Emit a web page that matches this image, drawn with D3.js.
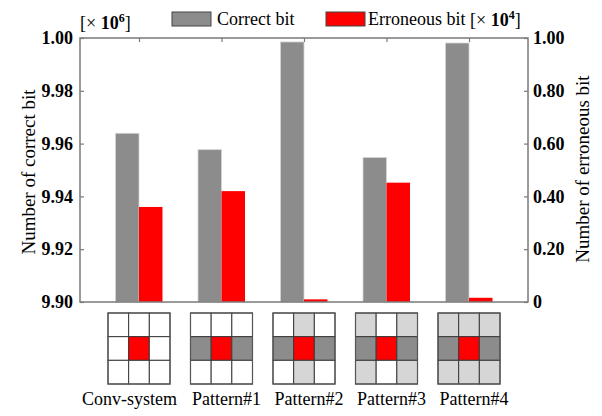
<!DOCTYPE html>
<html>
<head>
<meta charset="utf-8">
<script src="https://cdn.jsdelivr.net/npm/d3@7"></script>
<style>
  html, body { margin: 0; padding: 0; background: #fff; }
  svg text { font-family: "Liberation Serif", "Times New Roman", serif; fill: #000; }
</style>
</head>
<body>
<svg id="chart" width="602" height="416"></svg>
<script>
// Bit counts per readout scheme
const categories = ["Conv-system", "Pattern#1", "Pattern#2", "Pattern#3", "Pattern#4"];
const correctBits = [9.9639, 9.9577, 9.9985, 9.9547, 9.9981];   // [× 10^6]
const erroneousBits = [0.36, 0.42, 0.01, 0.452, 0.016];          // [× 10^4]
const leftTicks = [9.90, 9.92, 9.94, 9.96, 9.98, 10.00];
const leftTickLabels = ["9.90", "9.92", "9.94", "9.96", "9.98", "1.00"];
const rightTicks = [0, 0.20, 0.40, 0.60, 0.80, 1.00];
const rightTickLabels = ["0", "0.20", "0.40", "0.60", "0.80", "1.00"];
// 3×3 cell layouts below each group: r = target cell, d = dark neighbour, l = light neighbour, w = empty
const patternCells = [
  ["w", "w", "w", "w", "r", "w", "w", "w", "w"],
  ["w", "w", "w", "d", "r", "d", "w", "w", "w"],
  ["w", "l", "w", "d", "r", "d", "w", "l", "w"],
  ["l", "w", "l", "d", "r", "d", "l", "w", "l"],
  ["l", "l", "l", "d", "r", "d", "l", "l", "l"]
];

const SERIF = "'Liberation Serif', 'Times New Roman', serif";
const GRAY = "#8c8c8c", RED = "#ff0000", LIGHT = "#d6d6d6", AXIS = "#7a7a7a";
const cellFill = { r: RED, d: GRAY, l: LIGHT, w: "#ffffff" };

const svg = d3.select("#chart");
const plot = { left: 80, right: 528, top: 38, bottom: 302 };

const x = d3.scalePoint().domain(categories).range([plot.left, plot.right]).padding(0.715);
const sub = d3.scaleBand().domain(["correct", "erroneous"]).range([-23.5, 23.5]);
const yL = d3.scaleLinear().domain([9.90, 10.00]).range([plot.bottom, plot.top]);
const yR = d3.scaleLinear().domain([0, 1.0]).range([plot.bottom, plot.top]);

// Bars
const g = svg.append("g");
g.selectAll("rect.correct").data(categories).join("rect")
  .attr("class", "correct")
  .attr("x", d => x(d) + sub("correct"))
  .attr("width", sub.bandwidth())
  .attr("y", (d, i) => yL(correctBits[i]))
  .attr("height", (d, i) => plot.bottom - yL(correctBits[i]))
  .attr("fill", GRAY).attr("stroke", "#d4d4d4").attr("stroke-width", 0.8);
g.selectAll("rect.err").data(categories).join("rect")
  .attr("class", "err")
  .attr("x", d => x(d) + sub("erroneous"))
  .attr("width", sub.bandwidth())
  .attr("y", (d, i) => yR(erroneousBits[i]))
  .attr("height", (d, i) => plot.bottom - yR(erroneousBits[i]))
  .attr("fill", RED);

// Frame and axes
svg.append("rect")
  .attr("x", plot.left).attr("y", plot.top)
  .attr("width", plot.right - plot.left).attr("height", plot.bottom - plot.top)
  .attr("fill", "none").attr("stroke", AXIS).attr("stroke-width", 1.5);

const leftAxis = svg.append("g").attr("transform", `translate(${plot.left},0)`)
  .call(d3.axisLeft(yL).tickValues(leftTicks).tickSize(-4).tickPadding(7)
    .tickFormat((d, i) => leftTickLabels[i]));
const rightAxis = svg.append("g").attr("transform", `translate(${plot.right},0)`)
  .call(d3.axisRight(yR).tickValues(rightTicks).tickSize(-4).tickPadding(5)
    .tickFormat((d, i) => rightTickLabels[i]));
const topAxis = svg.append("g").attr("transform", `translate(0,${plot.top})`)
  .call(d3.axisTop(x).tickSize(-4).tickFormat(""));
[leftAxis, rightAxis, topAxis].forEach(a => {
  a.attr("font-family", SERIF);
  a.select(".domain").remove();
  a.selectAll(".tick line").attr("stroke", AXIS).attr("stroke-width", 1.2);
  a.selectAll(".tick text")
    .attr("font-family", SERIF).style("font-family", SERIF)
    .style("font-size", "18px").style("font-weight", "bold").attr("fill", "#222");
});

// Axis titles
svg.append("text")
  .attr("transform", `translate(35,${(plot.top + plot.bottom) / 2 + 2}) rotate(-90)`)
  .attr("text-anchor", "middle").style("font-size", "19px")
  .text("Number of correct bit");
svg.append("text")
  .attr("transform", `translate(589,${(plot.top + plot.bottom) / 2 - 1}) rotate(-90)`)
  .attr("text-anchor", "middle").style("font-size", "19px")
  .text("Number of erroneous bit");

// Scale multipliers
const unitL = svg.append("text").attr("x", 80).attr("y", 29).style("font-size", "18px");
unitL.append("tspan").text("[× ");
unitL.append("tspan").style("font-weight", "bold").text("10");
unitL.append("tspan").attr("dy", -7).style("font-size", "12px").style("font-weight", "bold").text("6");
unitL.append("tspan").attr("dy", 7).text("]");

const unitR = svg.append("text").attr("x", 470).attr("y", 26).style("font-size", "18px");
unitR.append("tspan").text("[× ");
unitR.append("tspan").style("font-weight", "bold").text("10");
unitR.append("tspan").attr("dy", -7).style("font-size", "12px").style("font-weight", "bold").text("4");
unitR.append("tspan").attr("dy", 7).text("]");

// Legend
const legend = [
  { label: "Correct bit", color: GRAY, x: 172, tx: 217 },
  { label: "Erroneous bit", color: RED, x: 326, tx: 368 }
];
const lg = svg.append("g");
lg.selectAll("rect").data(legend).join("rect")
  .attr("x", d => d.x).attr("y", 12).attr("width", 39).attr("height", 14)
  .attr("fill", d => d.color).attr("stroke", "#444").attr("stroke-width", 1);
lg.selectAll("text").data(legend).join("text")
  .attr("x", d => d.tx).attr("y", 25).style("font-size", "18px")
  .text(d => d.label);

// Cell layout icons
const iconW = 62, iconH = 71, iconTop = 313;
const cx = d3.scaleBand().domain([0, 1, 2]).range([0, iconW]);
const cy = d3.scaleBand().domain([0, 1, 2]).range([0, iconH]);
categories.forEach((c, k) => {
  const ig = svg.append("g").attr("transform", `translate(${x(c) - iconW / 2},${iconTop})`);
  ig.selectAll("rect").data(patternCells[k]).join("rect")
    .attr("x", (d, i) => cx(i % 3)).attr("y", (d, i) => cy(Math.floor(i / 3)))
    .attr("width", cx.bandwidth()).attr("height", cy.bandwidth())
    .attr("fill", d => cellFill[d]).attr("stroke", "#3a3a3a").attr("stroke-width", 1);
  ig.append("rect").attr("width", iconW).attr("height", iconH)
    .attr("fill", "none").attr("stroke", "#555").attr("stroke-width", 1.2);
});

// Category labels: the first starts at the plot's left edge, the rest sit just right of their group
svg.append("g").selectAll("text").data(categories).join("text")
  .attr("x", (d, i) => i === 0 ? plot.left + 2 : x(d) + 5)
  .attr("text-anchor", (d, i) => i === 0 ? "start" : "middle")
  .attr("y", 405)
  .style("font-size", "18px").text(d => d);
</script>
</body>
</html>
